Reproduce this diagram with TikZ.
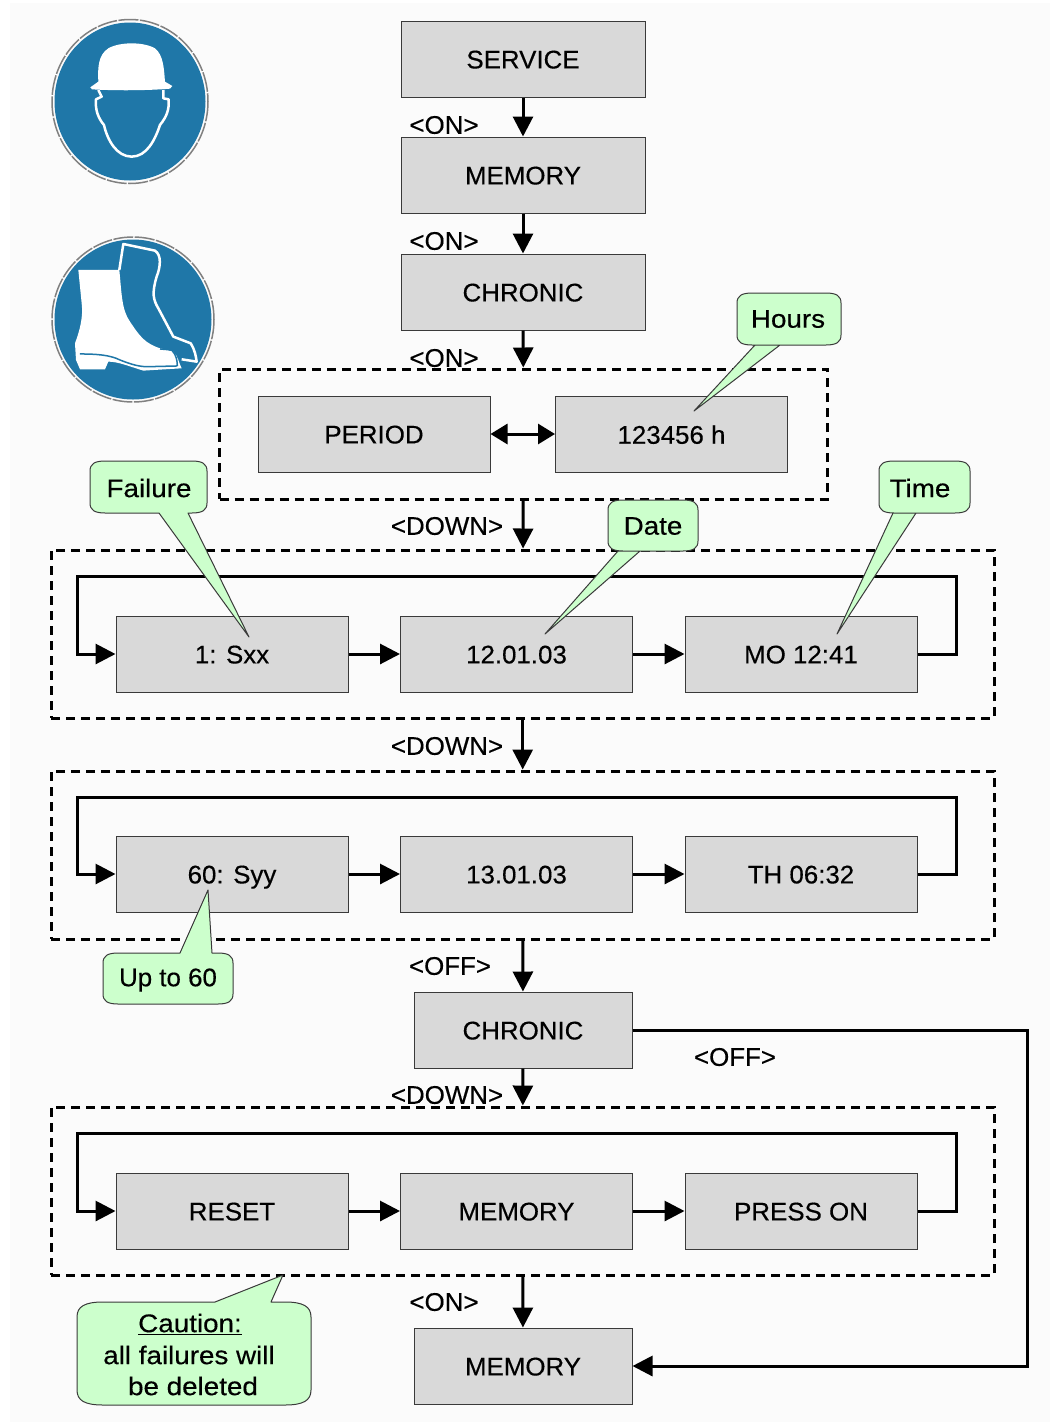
\documentclass[tikz,border=0pt]{standalone}
\usepackage{fontspec}
\setmainfont[FakeStretch=1.015,FakeBold=0.35]{Liberation Sans}
\newfontfamily\calloutfont[FakeStretch=1.09,FakeBold=0.35]{Liberation Sans}
\usetikzlibrary{arrows.meta}
\definecolor{boxgray}{HTML}{D9D9D9}
\definecolor{boxline}{HTML}{3A3A3A}
\definecolor{calloutgreen}{HTML}{CCFFCC}
\definecolor{signblue}{HTML}{1F77A8}
\definecolor{pagebg}{HTML}{FBFBFB}
\tikzset{
  stepbox/.style={draw=boxline,line width=1pt,fill=boxgray,inner sep=0pt,minimum height=76pt,text depth=0pt,font=\fontsize{25.5}{30}\selectfont},
  widebox/.style={stepbox,minimum width=244pt},
  rowbox/.style={stepbox,minimum width=232pt},
  midbox/.style={stepbox,minimum width=218pt},
  groupbox/.style={draw=black,line width=3pt,dash pattern=on 9pt off 6pt,inner sep=0pt},
  conn/.style={line width=3pt,-{Triangle[length=20pt,width=20pt]}},
  biconn/.style={line width=3pt,{Triangle[length=17pt,width=20pt]}-{Triangle[length=17pt,width=20pt]}},
  plainlabel/.style={inner sep=0pt,yshift=-1pt,font=\fontsize{25.5}{30}\selectfont},
  calloutlabel/.style={inner sep=0pt,yshift=-1pt,font=\fontsize{25.5}{30}\calloutfont},
  calloutshape/.style={draw=boxline,line width=1pt,fill=calloutgreen,line join=round},
  ringline/.style={draw=gray,line width=1.5pt,dash pattern=on 20pt off 1.5pt},
  signline/.style={draw=white,line width=2.5pt,line join=round},
}
% x1,y1,x2,y2 body; rx,ry corner; a,tx,ty,b tail on bottom
\newcommand\calloutbottom[9]{%
 \path[calloutshape] (#7,#4) -- (#8,#9) -- (\tailb,#4) -- ({#3-#5},#4)
  .. controls ({#3-0.3*#5},#4) and (#3,{#4-0.3*#6}) .. (#3,{#4-#6}) -- (#3,{#2+#6})
  .. controls (#3,{#2+0.3*#6}) and ({#3-0.3*#5},#2) .. ({#3-#5},#2) -- ({#1+#5},#2)
  .. controls ({#1+0.3*#5},#2) and (#1,{#2+0.3*#6}) .. (#1,{#2+#6}) -- (#1,{#4-#6})
  .. controls (#1,{#4-0.3*#6}) and ({#1+0.3*#5},#4) .. ({#1+#5},#4) -- cycle;}
\newcommand\callouttop[9]{%
 \path[calloutshape] (#7,#2) -- (#8,#9) -- (\tailb,#2) -- ({#3-#5},#2)
  .. controls ({#3-0.3*#5},#2) and (#3,{#2+0.3*#6}) .. (#3,{#2+#6}) -- (#3,{#4-#6})
  .. controls (#3,{#4-0.3*#6}) and ({#3-0.3*#5},#4) .. ({#3-#5},#4) -- ({#1+#5},#4)
  .. controls ({#1+0.3*#5},#4) and (#1,{#4-0.3*#6}) .. (#1,{#4-#6}) -- (#1,{#2+#6})
  .. controls (#1,{#2+0.3*#6}) and ({#1+0.3*#5},#2) .. ({#1+#5},#2) -- cycle;}
\begin{document}
\begin{tikzpicture}[x=1pt,y=-1pt]
\useasboundingbox (0,0) rectangle (1055,1422);
\fill[white] (0,0) rectangle (1055,1422);
\fill[pagebg] (10,3) rectangle (1050,1422);

% Safety signs
\fill[signblue] (130,101.5) ellipse [x radius=75.5,y radius=79];
\draw[ringline] (130,101.5) ellipse [x radius=78,y radius=82];
\begin{scope}[shift={(30,0)},x=0.3333pt,y=-0.3333pt]
  \fill[white] (181,262) -- (205,245) .. controls (203,200) and (205,165) .. (235,145)
     .. controls (270,125) and (340,125) .. (375,145)
     .. controls (400,165) and (402,205) .. (405,245) -- (427,258) -- (420,266)
     .. controls (350,272) and (250,272) .. (186,268) -- cycle;
  \draw[signline] (205,270) -- (215,290) -- (198,298) .. controls (195,330) and (205,355) .. (222,375)
     .. controls (232,420) and (260,470) .. (305,470)
     .. controls (350,470) and (375,420) .. (390,375)
     .. controls (410,350) and (418,330) .. (416,298) -- (400,295) -- (400,270);
\end{scope}
\fill[signblue] (133,319.5) ellipse [x radius=78.5,y radius=80];
\draw[ringline] (133,319.5) ellipse [x radius=81,y radius=82.5];
\begin{scope}[shift={(30,0)},x=0.3333pt,y=-0.3333pt]
  \fill[white] (145,810) -- (268,810) .. controls (275,880) and (275,930) .. (300,965)
     .. controls (330,1010) and (345,1030) .. (390,1045) -- (430,1055)
     .. controls (445,1070) and (445,1085) .. (455,1105) -- (340,1112)
     .. controls (300,1100) and (265,1085) .. (235,1085) -- (225,1108) -- (150,1108)
     -- (138,1080) -- (135,1030) .. controls (150,990) and (160,950) .. (155,910) -- cycle;
  \draw[signblue,line width=1.5pt] (150,1062) .. controls (200,1062) and (240,1065) .. (270,1080)
     .. controls (300,1092) and (330,1102) .. (360,1100) -- (442,1098);
  \draw[signblue,line width=1.5pt] (390,1047) -- (425,1050) .. controls (440,1065) and (442,1085) .. (442,1098);
  \draw[signline] (268,810) -- (280,732) -- (375,752)
     .. controls (395,765) and (392,800) .. (380,830) .. controls (365,880) and (370,900) .. (385,925)
     -- (430,1010) -- (482,1030) .. controls (495,1050) and (498,1070) .. (500,1085) -- (455,1078);
\end{scope}

% Groups
\node[groupbox,minimum width=608pt,minimum height=130pt] (g1) at (523.5,434) {};
\node[groupbox,minimum width=943pt,minimum height=168pt] (g2) at (522.7,634) {};
\node[groupbox,minimum width=943pt,minimum height=168pt] (g3) at (522.7,855) {};
\node[groupbox,minimum width=943pt,minimum height=168pt] (g4) at (522.7,1191) {};

% Boxes
\node[widebox] (service) at (523,59) {\raisebox{-1pt}{SERVICE}};
\node[widebox] (memory) at (523,175) {\raisebox{-1pt}{MEMORY}};
\node[widebox] (chronic) at (523,292) {\raisebox{-1pt}{CHRONIC}};
\node[rowbox] (period) at (374,434) {\raisebox{-1pt}{PERIOD}};
\node[rowbox] (hours) at (671.5,434) {\raisebox{-1pt}{123456 h}};
\node[rowbox] (fail) at (232,654) {\raisebox{-1pt}{1: Sxx}};
\node[rowbox] (date) at (516.5,654) {\raisebox{-1pt}{12.01.03}};
\node[rowbox] (time) at (801,654) {\raisebox{-1pt}{MO 12:41}};
\node[rowbox] (failb) at (232,874) {\raisebox{-1pt}{60: Syy}};
\node[rowbox] (dateb) at (516.5,874) {\raisebox{-1pt}{13.01.03}};
\node[rowbox] (timeb) at (801,874) {\raisebox{-1pt}{TH 06:32}};
\node[midbox] (chronicb) at (523,1030) {\raisebox{-1pt}{CHRONIC}};
\node[rowbox] (reset) at (232,1211) {\raisebox{-1pt}{RESET}};
\node[rowbox] (memb) at (516.5,1211) {\raisebox{-1pt}{MEMORY}};
\node[rowbox] (press) at (801,1211) {\raisebox{-1pt}{PRESS ON}};
\node[midbox] (memc) at (523,1366) {\raisebox{-1pt}{MEMORY}};

% Connectors
\draw[conn] (service) -- (memory);
\draw[conn] (memory) -- (chronic);
\draw[conn] (chronic) -- (g1);
\draw[biconn] (period) -- (hours);
\draw[conn] (g1) -- (g2);
\draw[conn] (g2) -- (g3);
\draw[conn] (g3) -- (chronicb);
\draw[conn] (chronicb) -- (g4);
\draw[conn] (g4) -- (memc);
\draw[conn] (fail) -- (date);
\draw[conn] (date) -- (time);
\draw[conn] (failb) -- (dateb);
\draw[conn] (dateb) -- (timeb);
\draw[conn] (reset) -- (memb);
\draw[conn] (memb) -- (press);
\coordinate (a1) at (956,654); \coordinate (a2) at (956,576); \coordinate (a3) at (77,576); \coordinate (a4) at (77,654);
\draw[conn,line join=miter] (time.east) -- (a1) -- (a2) -- (a3) -- (a4) -- (fail.west);
\coordinate (b1) at (956,874); \coordinate (b2) at (956,797); \coordinate (b3) at (77,797); \coordinate (b4) at (77,874);
\draw[conn,line join=miter] (timeb.east) -- (b1) -- (b2) -- (b3) -- (b4) -- (failb.west);
\coordinate (c1) at (956,1211); \coordinate (c2) at (956,1133); \coordinate (c3) at (77,1133); \coordinate (c4) at (77,1211);
\draw[conn,line join=miter] (press.east) -- (c1) -- (c2) -- (c3) -- (c4) -- (reset.west);
\coordinate (d1) at (1027,1030); \coordinate (d2) at (1027,1366);
\draw[conn,line join=miter] (chronicb.east) -- (d1) -- (d2) -- (memc.east);

% Connector labels
\node[plainlabel] (l1) at (444,124) {<ON>};
\node[plainlabel] (l2) at (444,240) {<ON>};
\node[plainlabel] (l3) at (444,357) {<ON>};
\node[plainlabel] (l4) at (447,525) {<DOWN>};
\node[plainlabel] (l5) at (447,745) {<DOWN>};
\node[plainlabel] (l6) at (450,965) {<OFF>};
\node[plainlabel] (l7) at (735,1056) {<OFF>};
\node[plainlabel] (l8) at (447,1094) {<DOWN>};
\node[plainlabel] (l9) at (444,1301) {<ON>};

% Callouts
\def\tailb{188}\calloutbottom{90}{461}{207}{513}{15}{10}{159}{249}{637}
\node[calloutlabel] (cfail) at (149,487) {Failure};
\def\tailb{755}\calloutbottom{737}{293}{841}{345}{15}{10}{780}{694}{411}
\node[calloutlabel] (chours) at (788,318) {Hours};
\def\tailb{618}\calloutbottom{608}{500}{698}{551}{15}{10}{640}{545}{634}
\node[calloutlabel] (cdate) at (653,525) {Date};
\def\tailb{893}\calloutbottom{879}{461}{970}{513}{15}{10}{916}{837}{634}
\node[calloutlabel] (ctime) at (920,487) {Time};
\def\tailb{212}\callouttop{103}{953}{233}{1004}{15}{10}{180}{208}{890}
\node[plainlabel,yshift=-1pt] (cupto) at (168,978) {Up to 60};
\def\tailb{271}\callouttop{77}{1302}{311}{1405}{26}{15}{215}{283}{1275}
\node[calloutlabel] (ccaut) at (190,1323) {\underline{Caution:}};
\node[calloutlabel] (cfails) at (189,1354) {all failures will};
\node[calloutlabel] (cdel) at (193,1385) {be deleted};
\end{tikzpicture}
\end{document}
